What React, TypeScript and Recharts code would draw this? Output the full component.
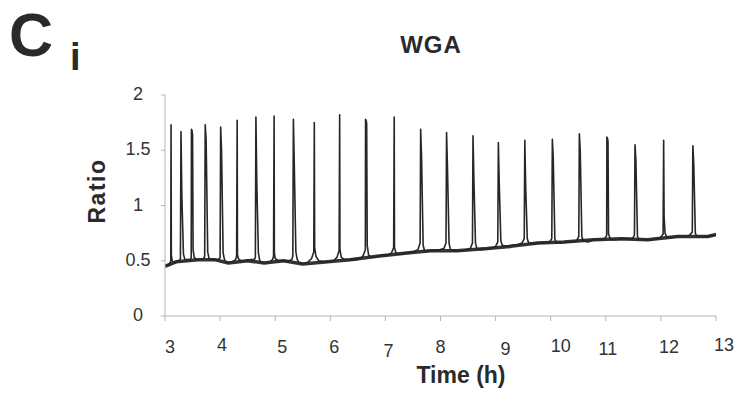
import React from "react";
import { LineChart, Line, XAxis, YAxis } from "recharts";

// Time (h) and ratio readings of the trace
const trace: [number, number][] = [
  [3.0, 0.45], [3.03, 0.46], [3.06, 0.46],
  [3.09, 0.48], [3.105, 0.5], [3.11, 1.73], [3.115, 0.55], [3.13, 0.5], [3.17, 0.48], [3.21, 0.49],
  [3.26, 0.5], [3.28, 0.52], [3.29, 1.67], [3.306, 1.08], [3.335, 0.56], [3.36, 0.51], [3.39, 0.51],
  [3.46, 0.51], [3.476, 0.53], [3.48, 1.69], [3.49, 1.68], [3.5, 1.64], [3.51, 0.6], [3.53, 0.53], [3.57, 0.51], [3.62, 0.51],
  [3.7, 0.52], [3.72, 0.54], [3.73, 1.73], [3.746, 1.6], [3.775, 0.58], [3.8, 0.52], [3.84, 0.51], [3.9, 0.51],
  [3.97, 0.51], [4.0, 0.53], [4.01, 1.71], [4.026, 1.5], [4.055, 0.57], [4.08, 0.51], [4.11, 0.49], [4.16, 0.48], [4.22, 0.49],
  [4.28, 0.51], [4.3, 0.54], [4.31, 1.77], [4.315, 0.56], [4.33, 0.52], [4.38, 0.5], [4.46, 0.5], [4.55, 0.51],
  [4.62, 0.51], [4.64, 0.53], [4.65, 1.8], [4.666, 1.2], [4.695, 0.57], [4.72, 0.5], [4.76, 0.48], [4.83, 0.48], [4.9, 0.49],
  [4.95, 0.51], [4.97, 0.54], [4.98, 1.81], [4.985, 0.57], [5.0, 0.52], [5.06, 0.5], [5.15, 0.5], [5.24, 0.5],
  [5.3, 0.51], [5.32, 0.54], [5.33, 1.78], [5.346, 1.38], [5.375, 0.58], [5.4, 0.51], [5.44, 0.48], [5.52, 0.47], [5.6, 0.49],
  [5.66, 0.52], [5.7, 0.58], [5.71, 1.75], [5.716, 0.62], [5.74, 0.54], [5.79, 0.5], [5.88, 0.49], [5.97, 0.49], [6.06, 0.5],
  [6.12, 0.53], [6.16, 0.59], [6.17, 1.82], [6.175, 0.6], [6.2, 0.53], [6.26, 0.51], [6.36, 0.51], [6.46, 0.51], [6.55, 0.52],
  [6.6, 0.55], [6.636, 0.6], [6.64, 1.78], [6.65, 1.77], [6.66, 1.74], [6.67, 0.64], [6.695, 0.55], [6.75, 0.53], [6.85, 0.54], [6.96, 0.55], [7.05, 0.55],
  [7.11, 0.57], [7.15, 0.62], [7.16, 1.8], [7.165, 0.62], [7.19, 0.57], [7.26, 0.56], [7.38, 0.57], [7.5, 0.58],
  [7.59, 0.6], [7.63, 0.66], [7.64, 1.69], [7.656, 1.44], [7.685, 0.64], [7.71, 0.59], [7.78, 0.59], [7.88, 0.59], [7.98, 0.6],
  [8.06, 0.61], [8.1, 0.66], [8.11, 1.66], [8.126, 1.35], [8.155, 0.66], [8.18, 0.6], [8.26, 0.59], [8.36, 0.59], [8.46, 0.6],
  [8.54, 0.61], [8.58, 0.66], [8.59, 1.63], [8.606, 1.23], [8.635, 0.66], [8.66, 0.61], [8.75, 0.6], [8.86, 0.61], [8.95, 0.62],
  [9.0, 0.63], [9.04, 0.67], [9.05, 1.57], [9.066, 1.2], [9.095, 0.68], [9.12, 0.64], [9.2, 0.63], [9.3, 0.64], [9.42, 0.65],
  [9.48, 0.66], [9.52, 0.7], [9.53, 1.59], [9.546, 1.17], [9.575, 0.7], [9.6, 0.66], [9.7, 0.65], [9.8, 0.66], [9.92, 0.66],
  [9.98, 0.67], [10.02, 0.7], [10.03, 1.6], [10.046, 1.43], [10.075, 0.7], [10.1, 0.66], [10.18, 0.66], [10.28, 0.67], [10.4, 0.67],
  [10.47, 0.68], [10.51, 0.72], [10.52, 1.65], [10.536, 1.5], [10.565, 0.72], [10.59, 0.68], [10.68, 0.67], [10.78, 0.69], [10.9, 0.69],
  [10.98, 0.7], [11.016, 0.73], [11.02, 1.62], [11.03, 1.61], [11.04, 1.58], [11.05, 0.74], [11.09, 0.69], [11.18, 0.69], [11.28, 0.7], [11.4, 0.7],
  [11.48, 0.7], [11.52, 0.73], [11.53, 1.55], [11.546, 1.41], [11.575, 0.72], [11.6, 0.69], [11.7, 0.69], [11.82, 0.69], [11.93, 0.7],
  [11.99, 0.71], [12.04, 0.74], [12.05, 1.59], [12.058, 0.9], [12.075, 0.75], [12.1, 0.72], [12.2, 0.71], [12.32, 0.72], [12.45, 0.72],
  [12.52, 0.73], [12.57, 0.76], [12.58, 1.54], [12.596, 1.38], [12.625, 0.75], [12.65, 0.72], [12.75, 0.72], [12.85, 0.72], [12.95, 0.73], [13.03, 0.74],
];

// Slow baseline of the trace (the thick noisy band)
const baseline: [number, number][] = [
  [3.0, 0.45], [3.1, 0.47], [3.2, 0.49], [3.4, 0.5], [3.6, 0.51], [3.9, 0.51], [4.15, 0.48], [4.5, 0.5],
  [4.8, 0.48], [5.15, 0.5], [5.5, 0.47], [5.95, 0.49], [6.36, 0.51], [6.85, 0.54], [7.39, 0.57], [7.82, 0.59],
  [8.3, 0.59], [8.85, 0.61], [9.27, 0.63], [9.76, 0.66], [10.24, 0.67], [10.78, 0.69], [11.27, 0.7],
  [11.76, 0.69], [12.3, 0.72], [12.85, 0.72], [13.03, 0.74],
];

const xTicks = [3, 4, 5, 6, 7, 8, 9, 10, 11, 12, 13];
const yTicks = [0, 0.5, 1, 1.5, 2];
const yTickLabels = ["0", "0.5", "1", "1.5", "2"];

// small hand-placed nudges of the x tick labels (style only)
const xLabelDx = [5, 2, 7, 4, 3, 0, 10, 10, 2, 8, 8];
const xLabelDy = [0, -2, 0, 0, 4, 0, 2, -1, 2, 0, -2];

const traceData = trace.map(([t, r]) => ({ t, r }));
const baselineData = baseline.map(([t, r]) => ({ t, r }));

const FONT = '"Liberation Sans", Arial, Helvetica, sans-serif';
const AXIS = "#b4b4b4";
const INK = "#262626";

const XTick = (props: any) => {
  const { x, y, payload, index } = props;
  const i = xTicks.indexOf(payload.value);
  const k = i >= 0 ? i : index;
  return (
    <text
      x={x + (xLabelDx[k] || 0)}
      y={y + 30 + (xLabelDy[k] || 0)}
      textAnchor="middle"
      fontSize={18}
      fontFamily={FONT}
      fill="#333"
    >
      {payload.value}
    </text>
  );
};

const YTick = (props: any) => {
  const { x, y, payload } = props;
  const i = yTicks.indexOf(payload.value);
  return (
    <text
      x={x - 21}
      y={y + 5}
      textAnchor="middle"
      fontSize={18}
      fontFamily={FONT}
      fill="#333"
    >
      {i >= 0 ? yTickLabels[i] : payload.value}
    </text>
  );
};

export default function App() {
  return (
    <div style={{ position: "absolute", left: 0, top: 0, width: 739, height: 407, background: "#fff" }}>
      <LineChart width={739} height={407} margin={{ top: 95, right: 23, bottom: 0, left: 0 }}>
        <XAxis
          type="number"
          dataKey="t"
          domain={[3, 13]}
          ticks={xTicks}
          height={91}
          tickSize={5}
          tickMargin={2}
          stroke={AXIS}
          tickLine={{ stroke: AXIS }}
          tick={<XTick />}
          interval={0}
          allowDataOverflow
        />
        <YAxis
          type="number"
          domain={[0, 2]}
          ticks={yTicks}
          width={165}
          tickSize={4}
          tickMargin={2}
          stroke={AXIS}
          tickLine={{ stroke: AXIS }}
          tick={<YTick />}
          interval={0}
        />
        <Line
          data={baselineData}
          dataKey="r"
          stroke="#333"
          strokeWidth={3.5}
          dot={false}
          isAnimationActive={false}
          strokeLinejoin="round"
        />
        <Line
          data={traceData}
          dataKey="r"
          stroke={INK}
          strokeWidth={1.6}
          dot={false}
          isAnimationActive={false}
          strokeLinejoin="round"
        />
      </LineChart>
      <svg
        width={739}
        height={407}
        style={{ position: "absolute", left: 0, top: 0, pointerEvents: "none" }}
      >
        <text x={9} y={56} fontSize={61} fontWeight="bold" fontFamily={FONT} fill="#2a2a2a">
          C
        </text>
        <text x={70} y={70} fontSize={38} fontWeight="bold" fontFamily={FONT} fill="#2a2a2a">
          i
        </text>
        <text x={431} y={53} fontSize={24} fontWeight="bold" fontFamily={FONT} fill="#2a2a2a" textAnchor="middle" letterSpacing={1}>
          WGA
        </text>
        <text x={461} y={383} fontSize={23} fontWeight="bold" fontFamily={FONT} fill="#2a2a2a" textAnchor="middle">
          Time (h)
        </text>
        <text
          transform="translate(105,191) rotate(-90)"
          fontSize={23}
          fontWeight="bold"
          fontFamily={FONT}
          fill="#2a2a2a"
          textAnchor="middle"
          letterSpacing={1.5}
        >
          Ratio
        </text>
      </svg>
    </div>
  );
}
